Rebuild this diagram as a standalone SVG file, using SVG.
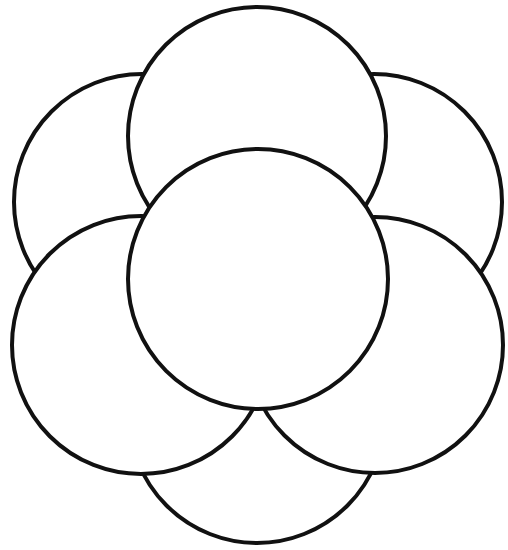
<svg xmlns="http://www.w3.org/2000/svg" width="508" height="550" viewBox="0 0 508 550">
<style>.c{fill:#fff;stroke:#111;stroke-width:4}</style>
<rect width="508" height="550" fill="#fff"/>
<g id="bottom"><circle class="c" cx="257" cy="415" r="128"/></g>
<g id="upper-left"><circle class="c" cx="142" cy="202" r="128"/></g>
<g id="upper-right"><circle class="c" cx="374" cy="202" r="128"/></g>
<g id="top"><circle class="c" cx="257" cy="136" r="129"/></g>
<g id="lower-left"><circle class="c" cx="141" cy="345" r="129"/></g>
<g id="lower-right"><circle class="c" cx="375" cy="345" r="128"/></g>
<g id="center"><circle class="c" cx="258" cy="279" r="130"/></g>
</svg>
